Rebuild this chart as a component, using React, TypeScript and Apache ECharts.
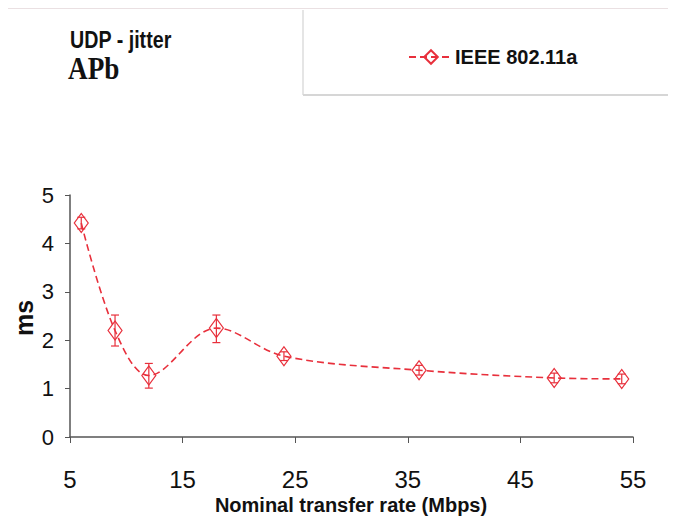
import React, { useEffect, useRef } from "react";
import * as echarts from "echarts";

const rates = [6, 9, 12, 18, 24, 36, 48, 54];
const jitter = [4.42, 2.2, 1.27, 2.25, 1.67, 1.38, 1.22, 1.2];
const errLow = [4.3, 1.88, 1.01, 1.95, 1.58, 1.28, 1.12, 1.1];
const errHigh = [4.54, 2.52, 1.52, 2.52, 1.76, 1.48, 1.32, 1.3];
const xTitle = "Nominal transfer rate (Mbps)";
const yTitle = "ms";

const RED = "#e8303c";
const FONT = "'Liberation Sans', Arial, sans-serif";

export default function App() {
  const ref = useRef<HTMLDivElement>(null);
  useEffect(() => {
    const chart = echarts.init(ref.current!, null, { renderer: "svg" });
    const errData = rates.map((r, i) => [r, errLow[i], errHigh[i]]);
    chart.setOption({
      animation: false,
      backgroundColor: "#ffffff",
      grid: { left: 62, right: 40, top: 187, bottom: 80, containLabel: false, outerBoundsMode: "none" },
      graphic: [
        { type: "line", shape: { x1: -8, y1: 0, x2: 660, y2: 0 }, style: { stroke: "#e3d6d8", lineWidth: 1.5 } },
        { type: "line", shape: { x1: 295, y1: 2, x2: 295, y2: 87 }, style: { stroke: "#dcdcdc", lineWidth: 1.5 } },
        { type: "line", shape: { x1: 295, y1: 87, x2: 660, y2: 87 }, style: { stroke: "#d6d6d6", lineWidth: 2 } },
        {
          type: "text", left: 62, top: 20, scaleX: 0.82,
          style: { text: "UDP - jitter", font: `bold 24px ${FONT}`, fill: "#111" },
        },
        {
          type: "text", left: 60, top: 44, scaleX: 0.85,
          style: { text: "APb", font: "bold 32px 'Liberation Serif', 'Times New Roman', serif", fill: "#111" },
        },
        {
          type: "text", x: 343, y: 497,
          style: { text: xTitle, font: `bold 20px ${FONT}`, fill: "#111", align: "center", verticalAlign: "middle" },
        },
        {
          type: "text", x: 16, y: 310, rotation: Math.PI / 2,
          style: { text: yTitle, font: `bold 25px ${FONT}`, fill: "#111", align: "center", verticalAlign: "middle" },
        },
      ],
      legend: {
        left: 395, top: 34,
        itemWidth: 44, itemHeight: 17, itemGap: 8,
        textStyle: { fontFamily: FONT, fontWeight: "bold", fontSize: 20, color: "#111", padding: [0, 0, 0, -3] },
        data: ["IEEE 802.11a"],
      },
      xAxis: {
        type: "value", min: 5, max: 55, interval: 10,
        axisLine: { lineStyle: { color: "#555", width: 1.5 } },
        axisTick: { inside: false, length: 6, lineStyle: { color: "#555" } },
        axisLabel: { fontFamily: FONT, fontSize: 24, color: "#111", margin: 30 },
        splitLine: { show: false },
      },
      yAxis: {
        type: "value", min: 0, max: 5, interval: 1,
        axisLine: { show: true, lineStyle: { color: "#555", width: 1.5 } },
        axisTick: { show: true, length: 5, lineStyle: { color: "#555" } },
        axisLabel: { fontFamily: FONT, fontSize: 22, color: "#111", margin: 16 },
        splitLine: { show: false },
      },
      series: [
        {
          type: "custom",
          silent: true,
          data: errData,
          encode: { x: 0, y: [1, 2] },
          z: 3,
          renderItem: (params: any, api: any) => {
            const x = api.value(0);
            const lo = api.coord([x, api.value(1)]);
            const hi = api.coord([x, api.value(2)]);
            const w = 4;
            const style = { stroke: RED, lineWidth: 1.2, fill: "none" };
            return {
              type: "group",
              children: [
                { type: "line", shape: { x1: lo[0], y1: lo[1], x2: hi[0], y2: hi[1] }, style },
                { type: "line", shape: { x1: lo[0] - w, y1: lo[1], x2: lo[0] + w, y2: lo[1] }, style },
                { type: "line", shape: { x1: hi[0] - w, y1: hi[1], x2: hi[0] + w, y2: hi[1] }, style },
              ],
            };
          },
        },
        {
          name: "IEEE 802.11a",
          type: "line",
          data: rates.map((r, i) => [r, jitter[i]]),
          smooth: 0.35,
          symbol: "diamond",
          symbolSize: [14, 19],
          z: 4,
          lineStyle: { color: RED, width: 1.6, type: [7, 4] },
          itemStyle: { color: "rgba(255,255,255,0)", borderColor: RED, borderWidth: 1.2 },
        },
      ],
    });
    return () => chart.dispose();
  }, []);
  return <div ref={ref} style={{ width: 665, height: 509 }} />;
}
